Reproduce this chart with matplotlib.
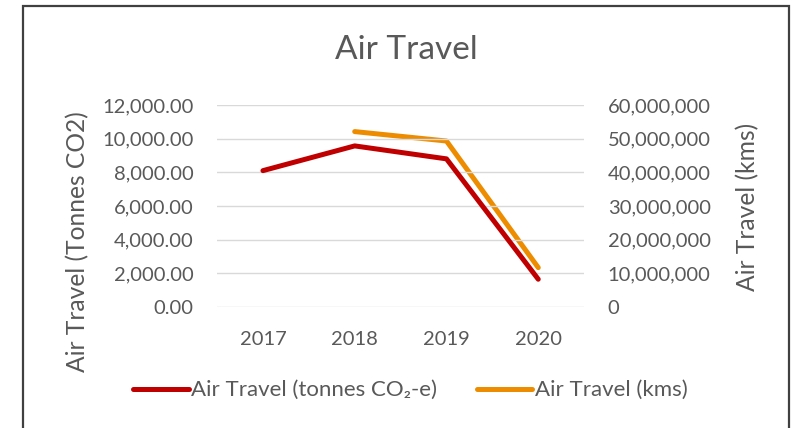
import numpy as np
import matplotlib
matplotlib.use("Agg")
import matplotlib.pyplot as plt
from matplotlib.patches import Rectangle
from matplotlib.ticker import FuncFormatter

plt.rcParams['font.family'] = ['Lato', 'DejaVu Sans']

# data
years = ['2017', '2018', '2019', '2020']
co2_tonnes = [8100, 9570, 8800, 1650]
air_kms = [np.nan, 52.1e6, 49.3e6, 11.7e6]

text_col = '#595959'
red = '#C00000'
orange = '#EE8C00'

W, H = 798, 428
fig = plt.figure(figsize=(W / 100, H / 100), dpi=100)
ax = fig.add_axes([0.272, 0.2827, 0.46, 0.472])
ax2 = ax.twinx()

x = np.arange(len(years))
l1, = ax.plot(x, co2_tonnes, color=red, lw=3.6, solid_capstyle='round',
              solid_joinstyle='round', label='Air Travel (tonnes CO\u2082-e)')
l2, = ax2.plot(x, air_kms, color=orange, lw=3.6, solid_capstyle='round',
               solid_joinstyle='round', label='Air Travel (kms)')
ax.set_zorder(ax2.get_zorder() + 1)
ax.patch.set_visible(False)

ax.set_xlim(-0.5, 3.5)
ax.set_ylim(0, 12000)
ax.set_yticks(np.arange(0, 12001, 2000))
ax2.set_ylim(0, 60e6)
ax2.set_yticks(np.arange(0, 60e6 + 1, 10e6))
ax.set_xticks(x)
ax.set_xticklabels(years)

ax.yaxis.set_major_formatter(FuncFormatter(lambda v, p: f'{v:,.2f}'))
ax2.yaxis.set_major_formatter(FuncFormatter(lambda v, p: f'{v:,.0f}'))

ax2.grid(False)
for yv in ax.get_yticks():
    ax.axhline(yv, color='#D9D9D9', lw=1.0, zorder=0)

for a in (ax, ax2):
    for s in a.spines.values():
        s.set_visible(False)
    a.tick_params(length=0, labelsize=14.5, colors=text_col)
ax.tick_params(axis='y', pad=17)
ax2.tick_params(axis='y', pad=17)
ax.tick_params(axis='x', pad=17)

# axis titles (Excel centres these on the whole plot area)
fig.text(78 / W, 1 - 242 / H, 'Air Travel (Tonnes CO2)', rotation=90,
         ha='center', va='center', fontsize=17.7, color=text_col)
fig.text(748 / W, 1 - 207 / H, 'Air Travel (kms)', rotation=90,
         ha='center', va='center', fontsize=17.7, color=text_col)

fig.text(0.509, 0.883, 'Air Travel', ha='center', va='center',
         fontsize=24, color=text_col)

fig.legend(handles=[l1, l2], loc='center', bbox_to_anchor=(0.514, 0.088),
           ncol=2, frameon=False, fontsize=16, handlelength=2.5,
           handletextpad=0.1, columnspacing=1.8, labelcolor=text_col)

# outer chart frame
fig.patches.append(Rectangle((23 / W, -0.05), (789 - 23) / W, 1.05 - 6 / H,
                             transform=fig.transFigure, fill=False,
                             edgecolor='#404040', lw=1.6))

fig.savefig('out.png', dpi=100)
